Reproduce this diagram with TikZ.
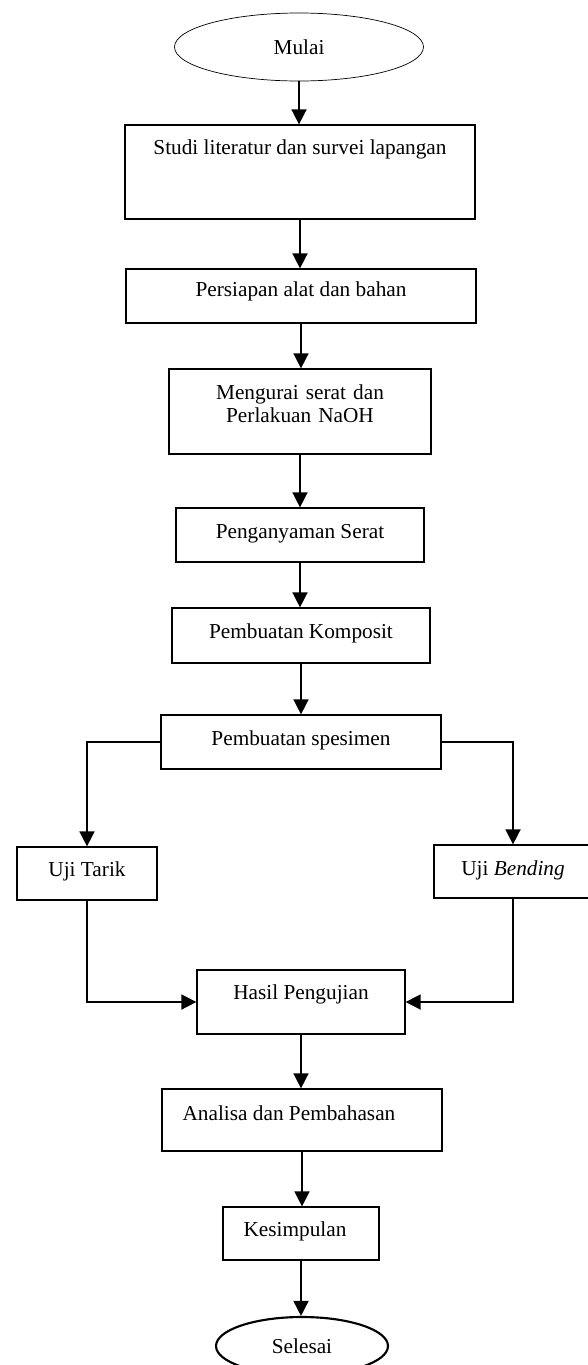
\documentclass[tikz,border=0pt]{standalone}
\usepackage{fontspec}
\setmainfont{Liberation Serif}
\usepackage{tikz}
\usetikzlibrary{arrows.meta,shapes.geometric}

\begin{document}
\begin{tikzpicture}[x=.564pt,y=-.564pt,line cap=round,
  box/.style={draw,rectangle,line width=.7pt,inner sep=0pt,
    font=\fontsize{12}{13.5}\selectfont,text height=10pt,text depth=#1},
  box/.default=4.4pt,
  term/.style={draw,ellipse,inner sep=0pt,font=\fontsize{12}{13.5}\selectfont},
  wh/.style 2 args={minimum width=#1*.564pt,minimum height=#2*.564pt},
  arr/.style={-{Triangle[length=8.5pt,width=8.5pt]},line width=.9pt}]
  \useasboundingbox (0,0) rectangle (587,1365);
  % Main column, one box under the other.
  \node[term,line width=.4pt,wh={249}{68}] (mulai) at (299,47) {Mulai};
  \node[box=29.2pt,wh={350}{94}] (studi) at (300,172) {Studi literatur dan survei lapangan};
  \node[box=8.9pt,wh={350}{54}] (persiapan) at (301,296) {Persiapan alat dan bahan};
  \node[box=24.1pt,wh={262}{85},text width=120pt,align=center] (mengurai) at (300,411.5)
    {Mengurai serat dan\\Perlakuan NaOH};
  \node[box=6.6pt,wh={248}{54}] (penganyaman) at (300,535) {Penganyaman Serat};
  \node[box=6.1pt,wh={258}{55}] (komposit) at (301,635.5) {Pembuatan Komposit};
  \node[box=6.6pt,wh={280}{54}] (spesimen) at (301,742) {Pembuatan spesimen};
  % The two tests.
  \node[box=6.1pt,wh={140}{53}] (tarik) at (87,873.5) {Uji Tarik};
  \node[box=5.3pt,wh={158}{53}] (bending) at (513,871.5) {Uji \textit{Bending}};
  \node[box=12.3pt,wh={208}{64}] (hasil) at (301,1002) {Hasil Pengujian};
  \node[box=10pt,wh={280}{62}] (analisa) at (302,1120) {Analisa dan Pembahasan\hspace*{14.7pt}};
  \node[box=6.1pt,wh={156}{53}] (kesimpulan) at (301,1233.5) {Kesimpulan\hspace*{6.8pt}};
  \node[term,line width=1.2pt,wh={172}{58}] (selesai) at (302,1346) {Selesai};
  \foreach \a/\b in {mulai/studi,studi/persiapan,persiapan/mengurai,mengurai/penganyaman,
    penganyaman/komposit,komposit/spesimen,hasil/analisa,analisa/kesimpulan,kesimpulan/selesai}
    \draw[arr] (\a.south) -- (\a.south |- \b.north);
  \draw[arr] (spesimen.west) -| (tarik.north);
  \draw[arr] (spesimen.east) -| (bending.north);
  \draw[arr] (tarik.south) |- (hasil.west);
  \draw[arr] (bending.south) |- (hasil.east);
\end{tikzpicture}
\end{document}
